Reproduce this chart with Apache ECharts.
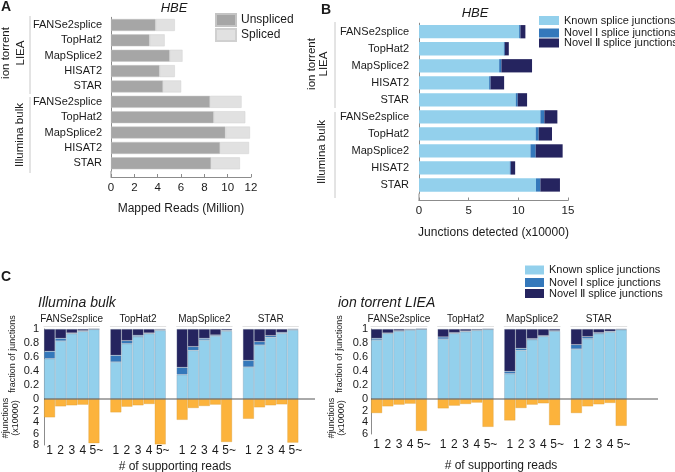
<!DOCTYPE html>
<html><head><meta charset="utf-8">
<script src="https://cdn.jsdelivr.net/npm/echarts@6/dist/echarts.min.js"></script>
<style>html,body{margin:0;padding:0;background:#fff}#c{width:675px;height:472px}</style>
</head><body><div id="c"></div>
<script>
// ---------- DATA ----------
const abLabels = ['FANSe2splice','TopHat2','MapSplice2','HISAT2','STAR','FANSe2splice','TopHat2','MapSplice2','HISAT2','STAR'];
// Panel A (million reads)
const unspliced = [3.83,3.31,5.04,4.17,4.46,8.49,8.81,9.81,9.35,8.58];
const spliced   = [1.64,1.29,1.09,1.30,1.55,2.70,2.70,2.10,2.48,2.47];
// Panel B (x10000 junctions)
const knownB  = [10.08,8.54,8.07,7.06,9.74,12.22,11.75,11.22,9.14,11.78];
const novel1B = [0.13,0.10,0.23,0.14,0.20,0.40,0.30,0.53,0.10,0.44];
const novel2B = [0.50,0.40,3.08,1.37,0.94,1.31,1.34,2.71,0.44,1.97];
// Panel C
const cTools = ['FANSe2splice','TopHat2','MapSplice2','STAR'];
const readBins = ['1','2','3','4','5~'];
const illKnown = [[0.576,0.829,0.933,0.967,0.995],[0.529,0.790,0.890,0.933,0.981],[0.348,0.695,0.843,0.900,0.971],[0.457,0.771,0.881,0.938,0.986]];
const illNovel1 = [[0.105,0.038,0.010,0.009,0.003],[0.095,0.043,0.020,0.010,0.009],[0.104,0.053,0.024,0.014,0.010],[0.095,0.048,0.024,0.014,0.009]];
const illNovel2 = [[0.319,0.133,0.057,0.024,0.002],[0.376,0.167,0.090,0.057,0.010],[0.548,0.252,0.133,0.086,0.019],[0.448,0.181,0.095,0.048,0.005]];
const illCounts = [[3.20,1.29,1.11,1.00,7.70],[2.34,1.35,1.11,0.88,7.90],[3.63,1.58,1.23,0.99,7.49],[3.45,1.46,1.11,0.94,7.60]];
const ionKnown = [[0.843,0.938,0.971,0.986,0.998],[0.857,0.938,0.962,0.981,0.995],[0.362,0.695,0.848,0.895,0.971],[0.714,0.862,0.933,0.957,0.990]];
const ionNovel1 = [[0.024,0.005,0.005,0.004,0.001],[0.029,0.010,0.009,0.005,0.002],[0.033,0.029,0.014,0.010,0.005],[0.062,0.028,0.015,0.010,0.005]];
const ionNovel2 = [[0.133,0.057,0.024,0.010,0.001],[0.114,0.052,0.029,0.014,0.003],[0.605,0.276,0.138,0.095,0.024],[0.224,0.110,0.052,0.033,0.005]];
const ionCounts = [[2.42,1.27,0.98,0.81,5.48],[1.62,1.15,0.87,0.63,4.79],[3.69,1.56,0.98,0.75,4.50],[2.42,1.27,0.92,0.69,4.62]];

// ---------- STYLE ----------
const FONT = '"Liberation Sans", Arial, Helvetica, sans-serif';
const AX = '#8c8c8c', TXT = '#1a1a1a';
const C_UNS = '#a6a6a6', C_SPL = '#e1e1e1';
const C_KN = '#93d0ec', C_N1 = '#3478bb', C_N2 = '#25245f', C_OR = '#fcb33c';
const N_KN = 'Known splice junctions', N_N1 = 'Novel Ⅰ splice junctions', N_N2 = 'Novel Ⅱ splice junctions';

const grid = [], xAxis = [], yAxis = [], series = [];

// ---------- Panel A ----------
grid.push({left:111, top:17.3, width:140, height:153.7});
xAxis.push({gridIndex:0, type:'value', min:0, max:12, interval:2, offset:6,
  axisLine:{show:true, lineStyle:{color:AX}}, axisTick:{show:true, inside:true, length:3, lineStyle:{color:AX}},
  splitLine:{show:false}, axisLabel:{fontSize:11.5, color:TXT, margin:5},
  name:'Mapped Reads (Million)', nameLocation:'middle', nameGap:26, nameTextStyle:{fontSize:12, color:TXT}});
yAxis.push({gridIndex:0, type:'category', inverse:true, data:abLabels.map((n,i)=>n+'#'+i),
  axisLine:{show:true, lineStyle:{color:AX}}, axisTick:{show:false},
  axisLabel:{fontSize:11, color:TXT, margin:9, formatter:v=>v.split('#')[0]}});
series.push({type:'bar', name:'Unspliced', stack:'A', xAxisIndex:0, yAxisIndex:0, data:unspliced, barCategoryGap:'22%',
  itemStyle:{color:C_UNS, borderColor:'#c4c4c4', borderWidth:0.5}});
series.push({type:'bar', name:'Spliced', stack:'A', xAxisIndex:0, yAxisIndex:0, data:spliced, barCategoryGap:'22%',
  itemStyle:{color:C_SPL, borderColor:'#d0d0d0', borderWidth:0.5}});

// ---------- Panel B ----------
grid.push({left:419, top:23.2, width:149, height:170.3});
xAxis.push({gridIndex:1, type:'value', min:0, max:15, interval:5, offset:7,
  axisLine:{show:true, lineStyle:{color:AX}}, axisTick:{show:true, inside:true, length:3, lineStyle:{color:AX}},
  splitLine:{show:false}, axisLabel:{fontSize:11.5, color:TXT, margin:4},
  name:'Junctions detected (x10000)', nameLocation:'middle', nameGap:26, nameTextStyle:{fontSize:12, color:TXT}});
yAxis.push({gridIndex:1, type:'category', inverse:true, data:abLabels.map((n,i)=>n+'#'+i),
  axisLine:{show:true, lineStyle:{color:AX}}, axisTick:{show:false},
  axisLabel:{fontSize:11, color:TXT, margin:10, formatter:v=>v.split('#')[0]}});
[[N_KN,knownB,C_KN],[N_N1,novel1B,C_N1],[N_N2,novel2B,C_N2]].forEach(([n,d,c])=>{
  series.push({type:'bar', name:n, stack:'B', xAxisIndex:1, yAxisIndex:1, data:d, barCategoryGap:'22%', itemStyle:{color:c}});
});

// ---------- Panel C ----------
const sides = [
  {lefts:[44,110.3,176.6,242.9], w:55.5, bh:46, max:8, interval:2, lm:0, known:illKnown, n1:illNovel1, n2:illNovel2, cnt:illCounts},
  {lefts:[371,437.6,504.2,570.8], w:56, bh:35, max:6, interval:2, lm:5, known:ionKnown, n1:ionNovel1, n2:ionNovel2, cnt:ionCounts}
];
sides.forEach((s, si) => {
  s.lefts.forEach((L, g) => {
    const first = g === 0;
    // top grid (fractions)
    const gi = grid.length;
    grid.push({left:L, top:329, width:s.w, height:70});
    xAxis.push({gridIndex:gi, type:'category', data:readBins, position:'top', offset:3,
      axisLine:{show:true, onZero:false, lineStyle:{color:'#e2e2e2'}}, axisTick:{show:false}, axisLabel:{show:false},
      name:cTools[g], nameLocation:'middle', nameGap:2, nameTextStyle:{fontSize:10, color:TXT}});
    yAxis.push({gridIndex:gi, type:'value', min:0, max:1, interval:0.2, show:first,
      axisLine:{show:true, lineStyle:{color:AX}}, axisTick:{show:false}, splitLine:{show:false},
      axisLabel:{fontSize:11, color:TXT, margin:si===0?5:3}});
    [[N_KN,s.known[g],C_KN],[N_N1,s.n1[g],C_N1],[N_N2,s.n2[g],C_N2]].forEach(([n,d,c])=>{
      series.push({type:'bar', name:n, stack:'C'+si+'_'+g, xAxisIndex:gi, yAxisIndex:gi, data:d, barCategoryGap:'0%',
        itemStyle:{color:c, borderColor:'rgba(120,140,160,0.45)', borderWidth:0.6}});
    });
    // bottom grid (counts)
    const bi = grid.length;
    grid.push({left:L, top:399, width:s.w, height:s.bh});
    xAxis.push({gridIndex:bi, type:'category', data:readBins, position:'bottom',
      axisLine:{show:false, onZero:false}, axisTick:{show:false},
      axisLabel:{fontSize:12, color:TXT, margin:s.lm, interval:0, hideOverlap:false,
        formatter:v=>v.endsWith('~') ? '{p|'+v+'}' : v,
        rich:{p:{fontSize:12, color:TXT, padding:[0,0,0,5]}}}});
    yAxis.push({gridIndex:bi, type:'value', min:0, max:s.max, interval:s.interval, inverse:true, show:first,
      axisLine:{show:true, lineStyle:{color:AX}}, axisTick:{show:false}, splitLine:{show:false},
      axisLabel:{fontSize:11, color:TXT, margin:si===0?5:3, showMinLabel:false}});
    series.push({type:'bar', name:'count', xAxisIndex:bi, yAxisIndex:bi, data:s.cnt[g], barCategoryGap:'0%',
      itemStyle:{color:C_OR, borderColor:'rgba(210,150,50,0.5)', borderWidth:0.6}});
  });
});

// ---------- Legends ----------
function leg(name, left, top, w, h, fs){
  return {data:[name], left, top, padding:0, itemWidth:w, itemHeight:h, icon:'rect', selectedMode:false,
    textStyle:{fontSize:fs, color:TXT, fontFamily:FONT}};
}
const legend = [
  leg('Unspliced',215,13,20,12,12), leg('Spliced',215,28,20,12,12),
  leg(N_KN,539,15,20,9,11), leg(N_N1,539,27.5,20,9,11), leg(N_N2,539,37.5,20,9,11),
  leg(N_KN,525,264.5,19,9,11), leg(N_N1,525,277,19,9,11), leg(N_N2,525,288,19,9,11)
];

// ---------- Decorations & labels ----------
function txt(x,y,t,o){ o=o||{}; return {type:'text', x, y, rotation:o.rot||0, z:10,
  style:{text:t, fill:TXT, align:o.align||'center', verticalAlign:'middle', lineHeight:o.lh,
    font:(o.style||'normal')+' '+(o.weight||'normal')+' '+(o.size||12)+'px '+FONT}}; }
function ln(x1,y1,x2,y2,c,w){ return {type:'line', z:5, shape:{x1,y1,x2,y2}, style:{stroke:c, lineWidth:w||1}}; }
const R = Math.PI/2;
const graphic = [
  txt(6,7,'A',{weight:'bold',size:14}), txt(326,10,'B',{weight:'bold',size:14}), txt(6,277,'C',{weight:'bold',size:14}),
  txt(174,8,'HBE',{style:'italic',size:13}), txt(475,13,'HBE',{style:'italic',size:13}),
  txt(13,53,'ion torrent\nLIEA',{rot:R,size:11.5,lh:15}), txt(20,135,'Illumina bulk',{rot:R,size:11.5}),
  txt(318,64,'ion torrent\nLIEA',{rot:R,size:11.5,lh:12}), txt(322,152,'Illumina bulk',{rot:R,size:11.5}),
  ln(30,16,30,94,'#c8c8c8'), ln(30,97,30,173,'#c8c8c8'),
  ln(335,22,335,108,'#c8c8c8'), ln(335,112,335,198,'#c8c8c8'),
  ln(111,171,111,177,AX), ln(419,193.5,419,200.7,AX),
  txt(38,303,'Illumina bulk',{style:'italic',size:14,align:'left'}),
  txt(338,303,'ion torrent LIEA',{style:'italic',size:14,align:'left'}),
  txt(13,354,'fraction of junctions',{rot:R,size:9}), txt(11,418,'#junctions\n(x10000)',{rot:R,size:9,lh:10}),
  txt(340,354,'fraction of junctions',{rot:R,size:9}), txt(337,418,'#junctions\n(x10000)',{rot:R,size:9,lh:10}),
  txt(175,467,'# of supporting reads',{size:12}), txt(501,466,'# of supporting reads',{size:12}),
  ln(44,399,315,399,'#555'), ln(371,399,658,399,'#555')
];

const chart = echarts.init(document.getElementById('c'));
chart.setOption({
  animation:false, backgroundColor:'#fff',
  textStyle:{fontFamily:FONT},
  grid, xAxis, yAxis, series, legend, graphic
});
</script></body></html>
